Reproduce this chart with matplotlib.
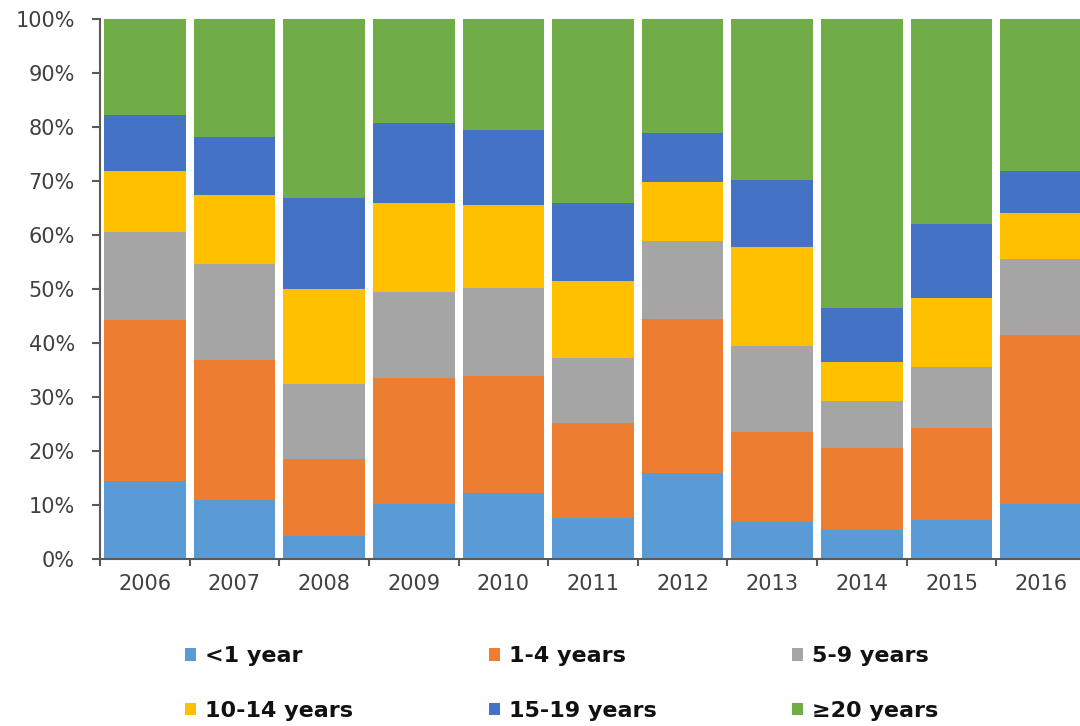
"""
Stacked 100% bar chart: share of years-of-service groups, 2006-2016
"""
import matplotlib
matplotlib.use("Agg")
import matplotlib.pyplot as plt
import numpy as np

years = ["2006", "2007", "2008", "2009", "2010", "2011",
         "2012", "2013", "2014", "2015", "2016"]
labels = ["<1 year", "1-4 years", "5-9 years",
          "10-14 years", "15-19 years", "\u226520 years"]

lt_1 = [14.4, 10.9, 4.3, 10.1, 12.2, 7.6, 15.9, 6.9, 5.4, 7.2, 10.1]
y_1_4 = [29.9, 26.0, 14.3, 23.5, 21.7, 17.5, 28.5, 16.7, 15.1, 17.0, 31.4]
y_5_9 = [16.3, 17.7, 13.8, 15.9, 16.3, 12.2, 14.5, 15.8, 8.8, 11.4, 14.0]
y_10_14 = [11.3, 12.9, 17.6, 16.4, 15.4, 14.1, 11.0, 18.4, 7.1, 12.7, 8.5]
y_15_19 = [10.3, 10.7, 16.9, 14.8, 13.8, 14.6, 8.9, 12.4, 10.1, 13.7, 7.9]
ge_20 = [17.8, 21.8, 33.1, 19.3, 20.6, 34.0, 21.2, 29.8, 53.5, 38.0, 28.1]

colors = ["#5B9BD5", "#ED7D31", "#A5A5A5", "#FFC000", "#4472C4", "#70AD47"]


def main():
    fig = plt.figure(figsize=(10.8, 7.26), dpi=100)
    ax = fig.add_axes([100 / 1080, 1 - 559 / 726, 986 / 1080, 540 / 726])

    series = [lt_1, y_1_4, y_5_9, y_10_14, y_15_19, ge_20]
    x = np.arange(len(years))
    bottom = np.zeros(len(years))
    handles = []
    for vals, lab, col in zip(series, labels, colors):
        b = ax.bar(x, vals, width=0.91, bottom=bottom, color=col,
                   label=lab, linewidth=0)
        handles.append(b)
        bottom += np.array(vals)

    ax.set_xlim(-0.5, len(years) - 0.5)
    ax.set_ylim(0, 100)
    ax.set_yticks(range(0, 101, 10))
    ax.set_yticklabels([f"{v}%" for v in range(0, 101, 10)])

    # tick marks between categories, labels at centres
    ax.set_xticks(np.arange(-0.5, len(years), 1.0))
    ax.set_xticklabels([])
    ax.set_xticks(x, minor=True)
    ax.set_xticklabels(years, minor=True)

    grey = "#404040"
    ax.tick_params(axis="y", length=6, width=1.5, color="#595959",
                   labelsize=15, labelcolor=grey, pad=12)
    ax.tick_params(axis="x", which="major", length=5, width=1.5,
                   color="#595959")
    ax.tick_params(axis="x", which="minor", length=0, labelsize=15,
                   labelcolor=grey, pad=11)

    for side in ["top", "right"]:
        ax.spines[side].set_visible(False)
    for side in ["left", "bottom"]:
        ax.spines[side].set_color("#595959")
        ax.spines[side].set_linewidth(1.5)

    order = [0, 3, 1, 4, 2, 5]
    fig.legend([handles[i] for i in order], [labels[i] for i in order],
               ncol=3, loc="center left",
               bbox_to_anchor=(185 / 1080, 1 - 683.5 / 726),
               frameon=False, borderpad=0, borderaxespad=0,
               handlelength=0.5, handleheight=0.5, handletextpad=0.4,
               columnspacing=6.1, labelspacing=1.55,
               prop={"size": 16, "weight": "bold"}, labelcolor="#111111")

    fig.savefig("out.png", dpi=100)


if __name__ == "__main__":
    main()
